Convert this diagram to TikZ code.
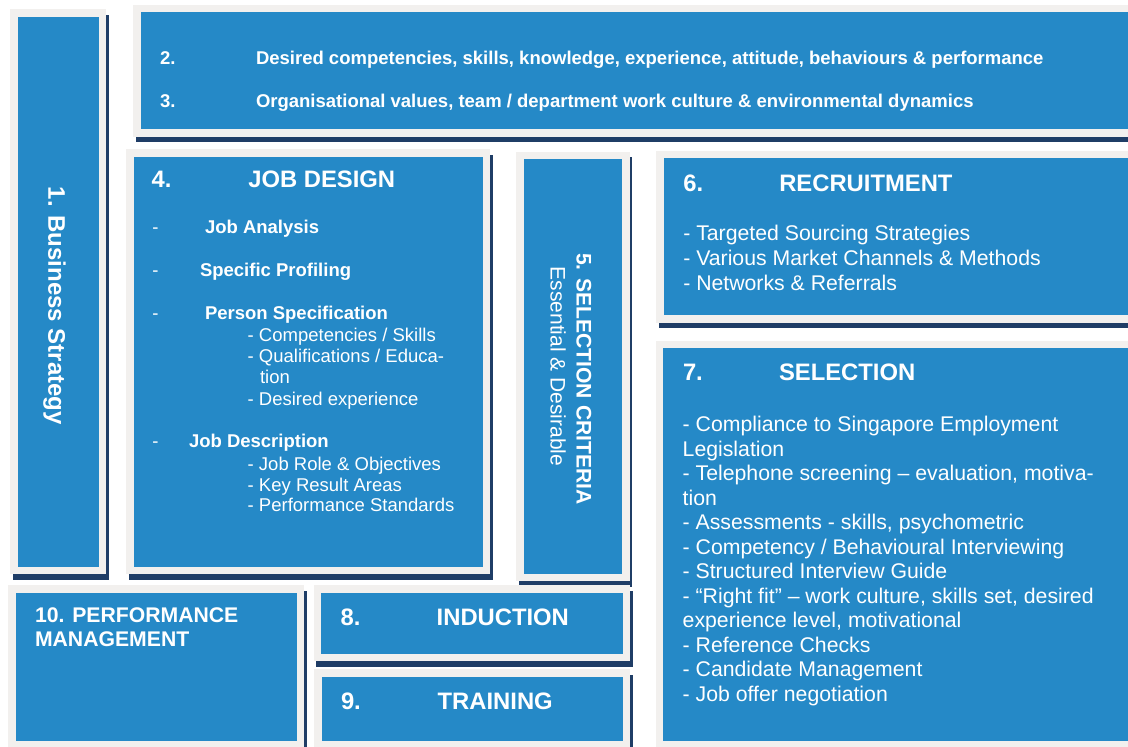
\documentclass[tikz,border=0pt]{standalone}
\usepackage{fontspec}
\setmainfont{Liberation Sans}
\definecolor{panelblue}{HTML}{2589C7}
\definecolor{panelgray}{HTML}{F2F0EE}
\definecolor{panelshadow}{HTML}{1F3D66}
\newcommand\drawpanel[4]{%
  \fill[panelshadow] ({#1+2.6},{#2+5.6}) rectangle ({#3+2.6},{#4+5.6});
  \fill[panelgray] (#1,#2) rectangle (#3,#4);
  \fill[panelblue] ({#1+7.5},{#2+7.5}) rectangle ({#3-7.5},{#4-7.5});
}
\tikzset{
  txt/.style={text=white, inner sep=0pt, outer sep=0pt, anchor=base west},
  bighead/.style={txt, font=\bfseries\fontsize{23.8}{28}\selectfont},
  smallbold/.style={txt, font=\bfseries\fontsize{18.5}{22}\selectfont},
  smallreg/.style={txt, font=\fontsize{18.5}{21}\selectfont},
  bodyreg/.style={txt, font=\fontsize{21.25}{24.5}\selectfont},
  midbold/.style={txt, font=\bfseries\fontsize{21.2}{24}\selectfont},
}
\begin{document}
\begin{tikzpicture}[x=1pt,y=-1pt]
\useasboundingbox (0,0) rectangle (1128,747);
\clip (0,0) rectangle (1128,747);
\fill[white] (0,0) rectangle (1128,747);

% panels
\drawpanel{10}{9}{106}{574.3}
\drawpanel{133}{4.5}{1140}{136.7}
\drawpanel{126}{149.3}{490}{574.3}
\drawpanel{516}{151.7}{629.5}{581}
\drawpanel{656}{150.7}{1140}{322.7}
\drawpanel{655.5}{340.7}{1140}{748.5}
\drawpanel{313.5}{585}{630}{661}
\drawpanel{314}{669}{630}{748.5}
\drawpanel{8}{585}{304.3}{748.5}

% 1. Business Strategy
\node[txt, font=\bfseries\fontsize{24}{28}\selectfont, rotate=-90] (bs) at (48.3,186.7) {1. Business Strategy};

% 2 and 3
\node[smallbold] (n2) at (160,64) {2.};
\node[smallbold] (t2) at (256,64) {Desired competencies, skills, knowledge, experience, attitude, behaviours \& performance};
\node[smallbold] (n3) at (160,107.3) {3.};
\node[smallbold] (t3) at (256,107.3) {Organisational values, team / department work culture \& environmental dynamics};

% 4. Job design
\node[bighead] (n4) at (151.7,187.7) {4.};
\node[bighead] (t4) at (248.3,187.7) {JOB DESIGN};
\node[smallreg] (d1) at (152.3,233.3) {-};
\node[smallbold] (ja) at (205,233.3) {Job Analysis};
\node[smallreg] (d2) at (152.3,276) {-};
\node[smallbold] (sp) at (200,276) {Specific Profiling};
\node[smallreg] (d3) at (152.3,319) {-};
\node[smallbold] (ps) at (205,319) {Person Specification};
\node[smallreg] (ps1) at (247.7,341.7) {- Competencies / Skills};
\node[smallreg] (ps2) at (247.7,362.7) {- Qualifications / Educa-};
\node[smallreg] (ps3) at (260,383.3) {tion};
\node[smallreg] (ps4) at (247.7,405) {- Desired experience};
\node[smallreg] (d4) at (152.3,447.7) {-};
\node[smallbold] (jd) at (189,447.7) {Job Description};
\node[smallreg] (jd1) at (247.7,470) {- Job Role \& Objectives};
\node[smallreg] (jd2) at (247.7,491) {- Key Result Areas};
\node[smallreg] (jd3) at (247.7,511.7) {- Performance Standards};

% 5. Selection criteria
\node[txt, font=\bfseries\fontsize{21.1}{24}\selectfont, rotate=-90] (sc) at (576.7,253) {5. SELECTION CRITERIA};
\node[txt, font=\fontsize{21}{24}\selectfont, rotate=-90] (ed) at (550.7,266.7) {Essential \& Desirable};

% 6. Recruitment
\node[bighead] (n6) at (683.3,191) {6.};
\node[bighead] (t6) at (779.3,191) {RECRUITMENT};
\node[bodyreg] (r1) at (683.3,240.7) {- Targeted Sourcing Strategies};
\node[bodyreg] (r2) at (683.3,265.3) {- Various Market Channels \& Methods};
\node[bodyreg] (r3) at (683.3,290) {- Networks \& Referrals};

% 7. Selection
\node[bighead] (n7) at (683,380) {7.};
\node[bighead] (t7) at (779,380) {SELECTION};
\foreach \s [count=\i from 0] in {
  {- Compliance to Singapore Employment},
  {Legislation},
  {- Telephone screening – evaluation, motiva-},
  {tion},
  {- Assessments - skills, psychometric},
  {- Competency / Behavioural Interviewing},
  {- Structured Interview Guide},
  {- “Right fit” – work culture, skills set, desired},
  {experience level, motivational},
  {- Reference Checks},
  {- Candidate Management},
  {- Job offer negotiation}}
  \node[bodyreg] (sel\i) at (682.7,{431.7+24.5*\i}) {\s};

% 8, 9
\node[bighead] (n8) at (340.7,625) {8.};
\node[bighead] (t8) at (436.7,625) {INDUCTION};
\node[bighead] (n9) at (341,709) {9.};
\node[bighead] (t9) at (437.7,709) {TRAINING};

% 10
\node[midbold] (t10a) at (35,622.7) {10. PERFORMANCE};
\node[midbold] (t10b) at (35,646.7) {MANAGEMENT};
\end{tikzpicture}
\end{document}
